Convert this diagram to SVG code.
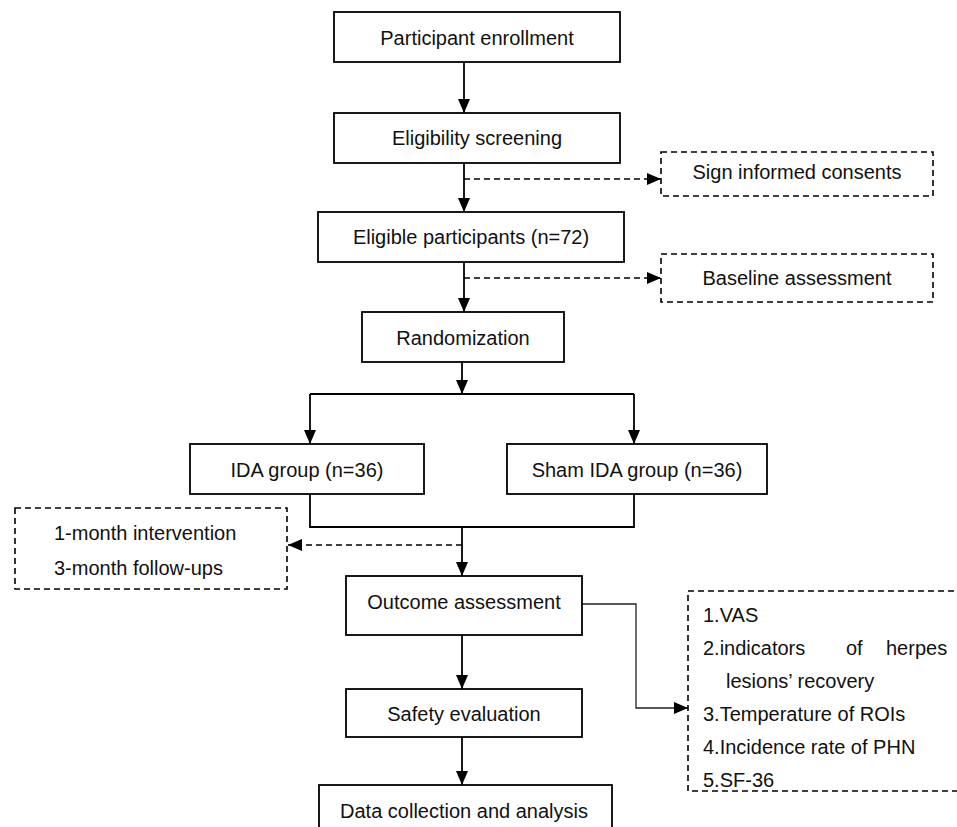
<svg xmlns="http://www.w3.org/2000/svg" width="957" height="827" viewBox="0 0 957 827">
<style>
  .box { fill: #ffffff; stroke: #000000; stroke-width: 1.8; }
  .dbox { fill: #ffffff; stroke: #000000; stroke-width: 1.6; stroke-dasharray: 6 4; }
  .t { font-family: "Liberation Sans", Arial, sans-serif; font-size: 20px; fill: #111111; }
  .c { text-anchor: middle; }
  .ln { fill: none; stroke: #000000; stroke-width: 1.8; }
  .dl { fill: none; stroke: #000000; stroke-width: 1.6; stroke-dasharray: 6 4; }
  .thin { fill: none; stroke: #222222; stroke-width: 1.3; }
</style>
<defs>
  <marker id="ah" markerUnits="userSpaceOnUse" markerWidth="14" markerHeight="12" refX="14" refY="6" orient="auto">
    <path d="M0,0 L14,6 L0,12 z" fill="#000000"/>
  </marker>
</defs>
<rect width="957" height="827" fill="#ffffff"/>

<g id="connectors">
  <path class="ln" d="M464,62 L464,113" marker-end="url(#ah)"/>
  <path class="ln" d="M464,163 L464,212" marker-end="url(#ah)"/>
  <path class="dl" d="M464,179 L661,179" marker-end="url(#ah)"/>
  <path class="ln" d="M464,262 L464,312" marker-end="url(#ah)"/>
  <path class="dl" d="M464,278 L661,278" marker-end="url(#ah)"/>
  <path class="ln" d="M462,362 L462,394" marker-end="url(#ah)"/>
  <path class="ln" d="M310,394 L634,394"/>
  <path class="ln" d="M310,394 L310,444" marker-end="url(#ah)"/>
  <path class="ln" d="M634,394 L634,444" marker-end="url(#ah)"/>
  <path class="ln" d="M310,494 L310,527 L634,527 L634,494"/>
  <path class="ln" d="M462,527 L462,576" marker-end="url(#ah)"/>
  <path class="dl" d="M462,545 L288,545" marker-end="url(#ah)"/>
  <path class="ln" d="M462,635 L462,689" marker-end="url(#ah)"/>
  <path class="thin" d="M582,604 L636,604 L636,708 L688,708" marker-end="url(#ah)"/>
  <path class="ln" d="M462,737 L462,785" marker-end="url(#ah)"/>
</g>

<g id="enrollment">
  <rect class="box" x="334" y="12" width="286" height="50"/>
  <text class="t c" x="477" y="45">Participant enrollment</text>
</g>
<g id="screening">
  <rect class="box" x="334" y="113" width="286" height="50"/>
  <text class="t c" x="477" y="145">Eligibility screening</text>
</g>
<g id="consents">
  <rect class="dbox" x="661" y="152" width="272" height="44"/>
  <text class="t c" x="797" y="179">Sign informed consents</text>
</g>
<g id="eligible">
  <rect class="box" x="318" y="212" width="306" height="50"/>
  <text class="t c" x="471" y="244">Eligible participants (n=72)</text>
</g>
<g id="baseline">
  <rect class="dbox" x="661" y="254" width="272" height="48"/>
  <text class="t c" x="797" y="285">Baseline assessment</text>
</g>
<g id="randomization">
  <rect class="box" x="362" y="312" width="202" height="50"/>
  <text class="t c" x="463" y="345">Randomization</text>
</g>
<g id="ida">
  <rect class="box" x="190" y="444" width="234" height="50"/>
  <text class="t c" x="307" y="477">IDA group (n=36)</text>
</g>
<g id="sham">
  <rect class="box" x="507" y="444" width="260" height="50"/>
  <text class="t c" x="637" y="477">Sham IDA group (n=36)</text>
</g>
<g id="intervention">
  <rect class="dbox" x="15" y="508" width="272" height="81"/>
  <text class="t" x="54" y="540">1-month intervention</text>
  <text class="t" x="54" y="575">3-month follow-ups</text>
</g>
<g id="outcome">
  <rect class="box" x="346" y="576" width="236" height="59"/>
  <text class="t c" x="464" y="609">Outcome assessment</text>
</g>
<g id="measures">
  <rect class="dbox" x="688" y="591" width="290" height="200"/>
  <text class="t" x="703" y="622">1.VAS</text>
  <text class="t" y="655"><tspan x="703">2.indicators</tspan><tspan x="846">of</tspan><tspan x="886">herpes</tspan></text>
  <text class="t" x="726" y="688">lesions’ recovery</text>
  <text class="t" x="703" y="721">3.Temperature of ROIs</text>
  <text class="t" x="703" y="754">4.Incidence rate of PHN</text>
  <text class="t" x="703" y="787">5.SF-36</text>
</g>
<g id="safety">
  <rect class="box" x="346" y="689" width="236" height="48"/>
  <text class="t c" x="464" y="721">Safety evaluation</text>
</g>
<g id="data">
  <rect class="box" x="319" y="785" width="293" height="60"/>
  <text class="t c" x="464" y="818">Data collection and analysis</text>
</g>
</svg>
